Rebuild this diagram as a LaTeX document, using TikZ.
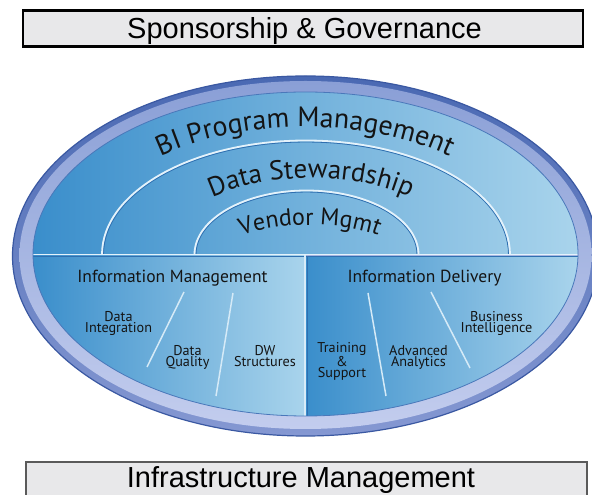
\documentclass[tikz,border=0pt]{standalone}
\usepackage{fontspec}
\newfontfamily\hvfont{Liberation Sans}
\newfontfamily\ptfont{PT Sans}
\usetikzlibrary{decorations.text}
\definecolor{bluedark}{HTML}{3A8ECB}
\definecolor{bluelight}{HTML}{A9D4EC}
\definecolor{rimtop}{HTML}{4A69B3}
\definecolor{rimbot}{HTML}{8598D2}
\definecolor{rimtopB}{HTML}{8A9FD6}
\definecolor{rimbotB}{HTML}{C3CDEE}
\definecolor{rimedge}{HTML}{3A58A2}
\definecolor{inneredge}{HTML}{4A78BA}
\definecolor{linewhite}{HTML}{E4F2FB}
\definecolor{linedark}{HTML}{2F6FB0}
\definecolor{slashc}{HTML}{D5EAF7}
\definecolor{txt}{HTML}{141414}
\definecolor{barfill}{HTML}{E8E8EA}
\definecolor{barline}{HTML}{5A5A5A}
\tikzset{
  head/.style={font=\ptfont\fontsize{17.5}{17.5}\selectfont, text=txt, anchor=base, inner sep=0pt},
  lbl/.style={font=\ptfont\fontsize{14.2}{11.7}\selectfont, text=txt, align=center, anchor=base, inner sep=0pt},
  slash/.style={draw=slashc, line width=1.5pt},
  whiteline/.style={draw=linewhite, line width=1.8pt},
  darkline/.style={draw=linedark, line width=0.9pt},
  bartext/.style={font=\hvfont\fontsize{29}{29}\selectfont, text=black, anchor=base, inner sep=0pt},
}
\begin{document}
\begin{tikzpicture}[x=1pt,y=1pt]
\useasboundingbox (0,0) rectangle (592,495);
\fill[white] (0,0) rectangle (592,495);

% top bar
\path[draw=black, line width=2.2pt, fill=barfill] (22.6,448.5) rectangle (583,484.5);
\node[bartext] (spons) at (304.5,456.5) {Sponsorship \& Governance};

% bottom bar
\path[draw=barline, line width=2pt, fill=barfill] (25.7,-5) rectangle (587,33);
\node[bartext] (infra) at (301,7) {Infrastructure Management};

% rim
\path[top color=rimtop, bottom color=rimbot, draw=rimedge, line width=1.2pt] (305.5,239) ellipse [x radius=293, y radius=180];
\path[top color=rimtopB, bottom color=rimbotB] (305.5,240) ellipse [x radius=286, y radius=174];

% inner body
\begin{scope}
\clip (305.5,241) ellipse [x radius=272.5, y radius=162];
\shade[left color=bluedark, right color=bluelight] (33,240) rectangle (578,404);
\shade[left color=bluedark, right color=bluelight] (33,78) rectangle (305,240);
\shade[left color=bluedark, right color=bluelight] (306,78) rectangle (578,238);
% arcs
\draw[darkline] (103.5,240.5) arc[start angle=180, end angle=0, x radius=202.5, y radius=112.5];
\draw[whiteline] (102,240.5) arc[start angle=180, end angle=0, x radius=204, y radius=114];
\draw[darkline] (196,240.5) arc[start angle=180, end angle=0, x radius=110.5, y radius=62.5];
\draw[whiteline] (194.5,240.5) arc[start angle=180, end angle=0, x radius=112, y radius=64];
% separators
\draw[darkline] (30,238.2) -- (590,238.2);
\draw[whiteline] (30,240.5) -- (590,240.5);
\draw[line width=2.4pt, draw=linewhite!80!bluelight] (304.8,239.5) -- (304.8,70);
\draw[darkline] (307.3,238.2) -- (307.3,70);
\end{scope}
\draw[draw=inneredge, line width=0.8pt] (305.5,241) ellipse [x radius=272.5, y radius=162];

% curved titles
\path[decorate, decoration={text along path, text align=center,
  text={|\ptfont\fontsize{28}{28}\selectfont\color{txt}|BI Program Management}}]
  (79,241) arc[start angle=180, end angle=0, x radius=226, y radius=127];
\path[decorate, decoration={text along path, text align=center,
  text={|\ptfont\fontsize{27}{27}\selectfont\color{txt}|Data Stewardship}}]
  (163,241) arc[start angle=180, end angle=0, x radius=148, y radius=76];
\path[decorate, decoration={text along path, text align=center,
  text={|\ptfont\fontsize{24}{24}\selectfont\color{txt}|Vendor Mgmt}}]
  (222,241) arc[start angle=180, end angle=0, x radius=88, y radius=29];

% lower panels
\node[head] (im) at (172.5,212) {Information Management};
\node[head] (id) at (424.5,212) {Information Delivery};

\coordinate (l1a) at (184,203); \coordinate (l1b) at (147,128);
\coordinate (l2a) at (233,202); \coordinate (l2b) at (216,99);
\coordinate (r1a) at (368,202); \coordinate (r1b) at (386,99);
\coordinate (r2a) at (431,203); \coordinate (r2b) at (470,127);
\draw[slash] (l1a) -- (l1b);
\draw[slash] (l2a) -- (l2b);
\draw[slash] (r1a) -- (r1b);
\draw[slash] (r2a) -- (r2b);

\node[lbl] (di) at (118.5,162) {Data\\Integration};
\node[lbl] (dq) at (187.5,128) {Data\\Quality};
\node[lbl] (dw) at (265,128) {DW\\Structures};
\node[lbl] (ts) at (342,117) {Training\\\&\\Support};
\node[lbl] (aa) at (418.5,128) {Advanced\\Analytics};
\node[lbl] (bi) at (496.5,162) {Business\\Intelligence};
\end{tikzpicture}
\end{document}
